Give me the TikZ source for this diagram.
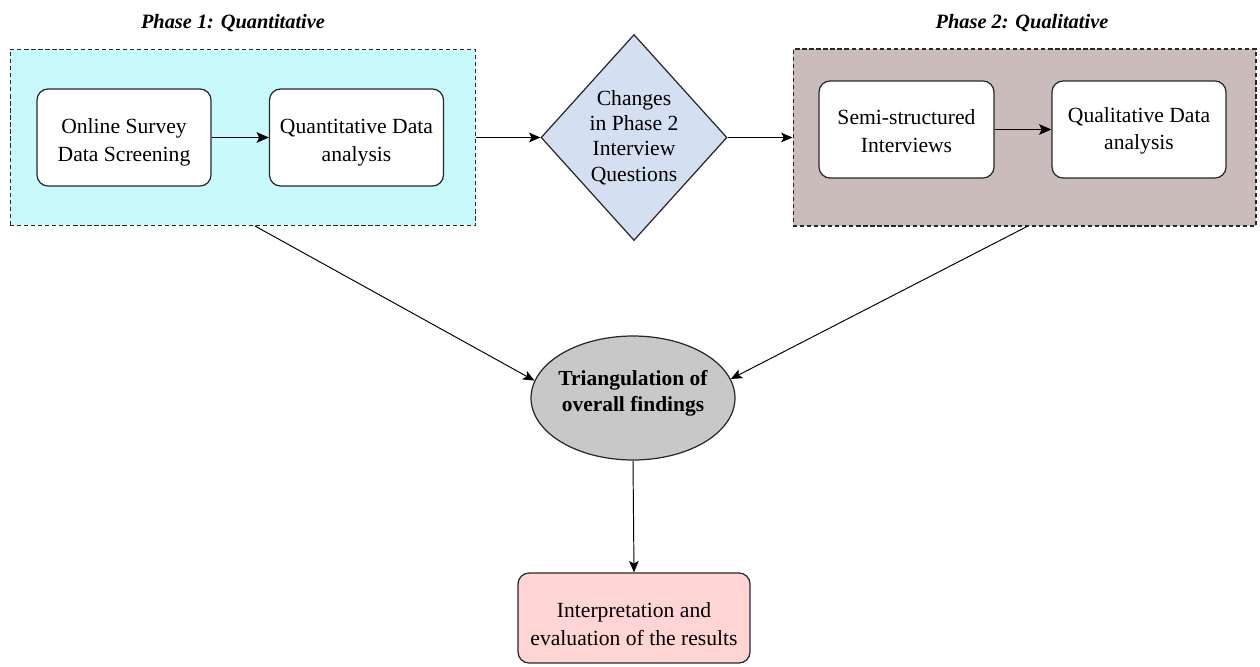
\documentclass[tikz,border=0pt]{standalone}
\usepackage{fontspec}
\setmainfont{Liberation Serif}
\usetikzlibrary{shapes.geometric,arrows.meta}

\definecolor{phaseone}{RGB}{200,250,251}
\definecolor{phasetwo}{RGB}{202,188,186}
\definecolor{decisionfill}{RGB}{213,223,242}
\definecolor{triangfill}{RGB}{200,200,200}
\definecolor{resultfill}{RGB}{255,212,212}
\definecolor{edgegray}{RGB}{40,40,40}

% invisible strut that makes a first line taller, so the text sits a bit lower
\newcommand{\lowerby}[1]{\rule{0pt}{#1}}

\tikzset{
  phasebox/.style={draw=edgegray, line width=0.6pt, dash pattern=on 2.4pt off 1.6pt,
    rectangle, inner sep=0pt},
  stepbox/.style={draw=edgegray, line width=0.7pt, fill=white, rounded corners=0.22cm,
    align=center, minimum width=3.48cm, minimum height=1.94cm,
    font=\fontsize{12.3}{15.8}\selectfont},
  phasetitle/.style={font=\fontsize{11.6}{14}\selectfont\bfseries\itshape},
  flow/.style={-{Stealth[length=6.5pt,width=5.5pt,inset=1.5pt]}, line width=0.55pt, draw=black},
  innerflow/.style={-{Stealth[length=7pt,width=6pt,inset=1.5pt]}, line width=1pt, draw=black}
}

\begin{document}
\begin{tikzpicture}[x=0.02cm, y=-0.02cm]
\useasboundingbox (0,0) rectangle (1260,666);

% phase titles
\node[phasetitle] (t1) at (233,23) {Phase 1: Quantitative};
\node[phasetitle] (t2) at (1022,23) {Phase 2: Qualitative};

% phase containers
\node[phasebox, fill=phaseone, minimum width=9.32cm, minimum height=3.52cm] (p1) at (243,137.5) {};
\node[phasebox, fill=phasetwo, minimum width=9.26cm, minimum height=3.54cm] (p2) at (1024.5,137.5) {};

% steps inside phase 1
\node[stepbox] (survey) at (124,137.5) {\lowerby{14pt}Online Survey\\Data Screening};
\node[stepbox] (quant) at (356.5,137.5) {\lowerby{14pt}Quantitative Data\\analysis};

% steps inside phase 2
\node[stepbox, minimum width=3.5cm] (semi) at (906.5,129.5) {\lowerby{10pt}Semi-structured\\Interviews};
\node[stepbox] (qual) at (1139,129.5) {\lowerby{10pt}Qualitative Data\\analysis};

% decision between the phases
\node[diamond, draw=edgegray, line width=0.7pt, fill=decisionfill, inner sep=0pt,
      minimum width=3.72cm, minimum height=4.12cm, align=center,
      font=\fontsize{12.3}{14.5}\selectfont] (change) at (634,137.5)
  {Changes\\in Phase 2\\Interview\\Questions};

% triangulation
\node[ellipse, draw=edgegray, line width=0.7pt, fill=triangfill,
      inner xsep=-0.07cm, inner ysep=0pt,
      minimum width=4.08cm, minimum height=2.48cm, align=center,
      font=\fontsize{12.2}{14.5}\selectfont\bfseries] (tri) at (633,398)
  {Triangulation of\\overall findings\rule[-8pt]{0pt}{0pt}};

% final step
\node[stepbox, fill=resultfill, minimum width=4.64cm, minimum height=1.8cm] (result) at (634,618)
  {\lowerby{15.5pt}Interpretation and\\evaluation of the results};

% connectors
\draw[innerflow] (survey) -- (quant);
\draw[innerflow] (semi) -- (qual);
\draw[flow] (p1.east) -- (change.west);
\draw[flow] (change.east) -- (p2.west);
\draw[flow] ([xshift=0.24cm]p1.south) -- (tri.170);
\draw[flow] ([xshift=0.05cm]p2.south) -- (tri.11);
\draw[flow] (tri.south) -- (result.north);
\end{tikzpicture}
\end{document}
